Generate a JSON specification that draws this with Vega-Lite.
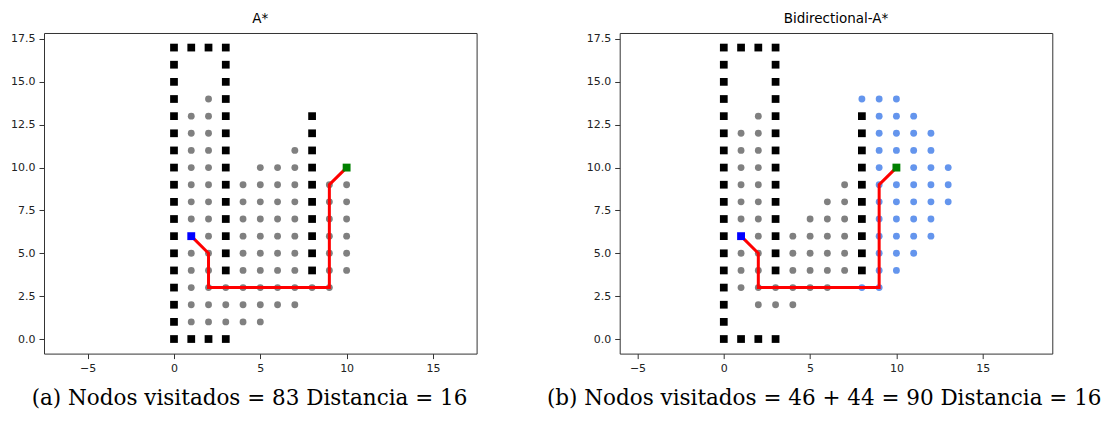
{
"$schema": "https://vega.github.io/schema/vega-lite/v6.json",
"padding": {"left": 10, "top": 12, "right": 0, "bottom": 0},
"background": "white",
"datasets": {
"walls": [
{"x":0,"y":0},{"x":0,"y":1},{"x":0,"y":2},{"x":0,"y":3},{"x":0,"y":4},{"x":0,"y":5},{"x":0,"y":6},{"x":0,"y":7},{"x":0,"y":8},{"x":0,"y":9},{"x":0,"y":10},{"x":0,"y":11},{"x":0,"y":12},{"x":0,"y":13},{"x":0,"y":14},{"x":0,"y":15},{"x":0,"y":16},{"x":0,"y":17},
{"x":1,"y":17},{"x":2,"y":17},{"x":3,"y":17},{"x":1,"y":0},{"x":2,"y":0},{"x":3,"y":0},
{"x":3,"y":4},{"x":3,"y":5},{"x":3,"y":6},{"x":3,"y":7},{"x":3,"y":8},{"x":3,"y":9},{"x":3,"y":10},{"x":3,"y":11},{"x":3,"y":12},{"x":3,"y":13},{"x":3,"y":14},{"x":3,"y":15},{"x":3,"y":16},
{"x":8,"y":4},{"x":8,"y":5},{"x":8,"y":6},{"x":8,"y":7},{"x":8,"y":8},{"x":8,"y":9},{"x":8,"y":10},{"x":8,"y":11},{"x":8,"y":12},{"x":8,"y":13}
],
"visitA": [
{"x":2,"y":14},
{"x":1,"y":13},{"x":2,"y":13},
{"x":1,"y":12},{"x":2,"y":12},
{"x":1,"y":11},{"x":2,"y":11},{"x":7,"y":11},
{"x":1,"y":10},{"x":2,"y":10},{"x":5,"y":10},{"x":6,"y":10},{"x":7,"y":10},
{"x":1,"y":9},{"x":2,"y":9},{"x":4,"y":9},{"x":5,"y":9},{"x":6,"y":9},{"x":7,"y":9},{"x":9,"y":9},{"x":10,"y":9},
{"x":1,"y":8},{"x":2,"y":8},{"x":4,"y":8},{"x":5,"y":8},{"x":6,"y":8},{"x":7,"y":8},{"x":9,"y":8},{"x":10,"y":8},
{"x":1,"y":7},{"x":2,"y":7},{"x":4,"y":7},{"x":5,"y":7},{"x":6,"y":7},{"x":7,"y":7},{"x":9,"y":7},{"x":10,"y":7},
{"x":2,"y":6},{"x":4,"y":6},{"x":5,"y":6},{"x":6,"y":6},{"x":7,"y":6},{"x":9,"y":6},{"x":10,"y":6},
{"x":1,"y":5},{"x":2,"y":5},{"x":4,"y":5},{"x":5,"y":5},{"x":6,"y":5},{"x":7,"y":5},{"x":9,"y":5},{"x":10,"y":5},
{"x":1,"y":4},{"x":2,"y":4},{"x":4,"y":4},{"x":5,"y":4},{"x":6,"y":4},{"x":7,"y":4},{"x":9,"y":4},{"x":10,"y":4},
{"x":1,"y":3},{"x":2,"y":3},{"x":3,"y":3},{"x":4,"y":3},{"x":5,"y":3},{"x":6,"y":3},{"x":7,"y":3},{"x":8,"y":3},{"x":9,"y":3},
{"x":1,"y":2},{"x":2,"y":2},{"x":3,"y":2},{"x":4,"y":2},{"x":5,"y":2},{"x":6,"y":2},{"x":7,"y":2},
{"x":1,"y":1},{"x":2,"y":1},{"x":3,"y":1},{"x":4,"y":1},{"x":5,"y":1}
],
"visitBf": [
{"x":2,"y":13},
{"x":1,"y":12},{"x":2,"y":12},
{"x":1,"y":11},{"x":2,"y":11},
{"x":1,"y":10},{"x":2,"y":10},
{"x":1,"y":9},{"x":2,"y":9},{"x":7,"y":9},
{"x":1,"y":8},{"x":2,"y":8},{"x":6,"y":8},{"x":7,"y":8},
{"x":1,"y":7},{"x":2,"y":7},{"x":5,"y":7},{"x":6,"y":7},{"x":7,"y":7},
{"x":2,"y":6},{"x":4,"y":6},{"x":5,"y":6},{"x":6,"y":6},{"x":7,"y":6},
{"x":1,"y":5},{"x":2,"y":5},{"x":4,"y":5},{"x":5,"y":5},{"x":6,"y":5},{"x":7,"y":5},
{"x":1,"y":4},{"x":2,"y":4},{"x":4,"y":4},{"x":5,"y":4},{"x":6,"y":4},{"x":7,"y":4},
{"x":1,"y":3},{"x":2,"y":3},{"x":3,"y":3},{"x":4,"y":3},{"x":5,"y":3},{"x":6,"y":3},
{"x":2,"y":2},{"x":3,"y":2},{"x":4,"y":2}
],
"visitBb": [
{"x":8,"y":14},{"x":9,"y":14},{"x":10,"y":14},
{"x":9,"y":13},{"x":10,"y":13},{"x":11,"y":13},
{"x":9,"y":12},{"x":10,"y":12},{"x":11,"y":12},{"x":12,"y":12},
{"x":9,"y":11},{"x":10,"y":11},{"x":11,"y":11},{"x":12,"y":11},
{"x":9,"y":10},{"x":11,"y":10},{"x":12,"y":10},{"x":13,"y":10},
{"x":9,"y":9},{"x":10,"y":9},{"x":11,"y":9},{"x":12,"y":9},{"x":13,"y":9},
{"x":9,"y":8},{"x":10,"y":8},{"x":11,"y":8},{"x":12,"y":8},{"x":13,"y":8},
{"x":9,"y":7},{"x":10,"y":7},{"x":11,"y":7},{"x":12,"y":7},
{"x":9,"y":6},{"x":10,"y":6},{"x":11,"y":6},{"x":12,"y":6},
{"x":9,"y":5},{"x":10,"y":5},{"x":11,"y":5},
{"x":9,"y":4},{"x":10,"y":4},
{"x":8,"y":3},{"x":9,"y":3}
],
"path": [
{"i":0,"x":1,"y":6},{"i":1,"x":2,"y":5},{"i":2,"x":2,"y":3},{"i":3,"x":9,"y":3},{"i":4,"x":9,"y":9},{"i":5,"x":10,"y":10}
],
"ends": [
{"kind":"start","x":1,"y":6},{"kind":"goal","x":10,"y":10}
]
},
"hconcat": [
{
"width": 432.6, "height": 320.6,
"title": {"text": "A*", "font": "DejaVu Sans", "fontSize": 13.5, "fontWeight": "normal", "color": "#000000", "anchor": "middle", "offset": 7},
"encoding": {
"x": {"field": "x", "type": "quantitative", "scale": {"domain": [-7.53, 17.53], "nice": false, "zero": false},
"axis": {"values": [-5, 0, 5, 10, 15], "format": "d", "title": "(a) Nodos visitados = 83 Distancia = 16", "titleX": 205}},
"y": {"field": "y", "type": "quantitative", "scale": {"domain": [-0.85, 17.85], "nice": false, "zero": false},
"axis": {"values": [0, 2.5, 5, 7.5, 10, 12.5, 15, 17.5], "format": ".1f", "title": null}}
},
"layer": [
{"data": {"name": "visitA"}, "mark": {"type": "point", "shape": "circle", "filled": true, "opacity": 1, "size": 47, "color": "#808080"}},
{"data": {"name": "walls"}, "mark": {"type": "point", "shape": "square", "filled": true, "opacity": 1, "size": 60, "color": "#000000"}},
{"data": {"name": "path"}, "mark": {"type": "line", "color": "#ff0000", "strokeWidth": 3}, "encoding": {"order": {"field": "i", "type": "quantitative"}}},
{"data": {"name": "ends"}, "transform": [{"filter": "datum.kind === 'start'"}], "mark": {"type": "point", "shape": "square", "filled": true, "opacity": 1, "size": 62, "color": "#0000ff"}},
{"data": {"name": "ends"}, "transform": [{"filter": "datum.kind === 'goal'"}], "mark": {"type": "point", "shape": "square", "filled": true, "opacity": 1, "size": 62, "color": "#008000"}}
]
},
{
"width": 432.6, "height": 320.6,
"title": {"text": "Bidirectional-A*", "font": "DejaVu Sans", "fontSize": 13.5, "fontWeight": "normal", "color": "#000000", "anchor": "middle", "offset": 7},
"encoding": {
"x": {"field": "x", "type": "quantitative", "scale": {"domain": [-6.03, 19.03], "nice": false, "zero": false},
"axis": {"values": [-5, 0, 5, 10, 15], "format": "d", "title": "(b) Nodos visitados = 46 + 44 = 90 Distancia = 16", "titleX": 204}},
"y": {"field": "y", "type": "quantitative", "scale": {"domain": [-0.85, 17.85], "nice": false, "zero": false},
"axis": {"values": [0, 2.5, 5, 7.5, 10, 12.5, 15, 17.5], "format": ".1f", "title": null}}
},
"layer": [
{"data": {"name": "visitBf"}, "mark": {"type": "point", "shape": "circle", "filled": true, "opacity": 1, "size": 47, "color": "#808080"}},
{"data": {"name": "visitBb"}, "mark": {"type": "point", "shape": "circle", "filled": true, "opacity": 1, "size": 47, "color": "#6495ED"}},
{"data": {"name": "walls"}, "mark": {"type": "point", "shape": "square", "filled": true, "opacity": 1, "size": 60, "color": "#000000"}},
{"data": {"name": "path"}, "mark": {"type": "line", "color": "#ff0000", "strokeWidth": 3}, "encoding": {"order": {"field": "i", "type": "quantitative"}}},
{"data": {"name": "ends"}, "transform": [{"filter": "datum.kind === 'start'"}], "mark": {"type": "point", "shape": "square", "filled": true, "opacity": 1, "size": 62, "color": "#0000ff"}},
{"data": {"name": "ends"}, "transform": [{"filter": "datum.kind === 'goal'"}], "mark": {"type": "point", "shape": "square", "filled": true, "opacity": 1, "size": 62, "color": "#008000"}}
]
}
],
"spacing": 142.7,
"bounds": "flush",
"config": {
"font": "DejaVu Sans",
"view": {"stroke": "#333333", "strokeWidth": 1},
"axis": {"grid": false, "domain": false, "ticks": true, "tickSize": 5, "tickColor": "#333333", "labelFont": "DejaVu Sans", "labelFontSize": 11, "labelColor": "#222222", "labelPadding": 4,
"titleFont": "DejaVu Serif", "titleFontSize": 21.5, "titleFontWeight": "normal", "titleColor": "#000000", "titlePadding": 14}
}
}
